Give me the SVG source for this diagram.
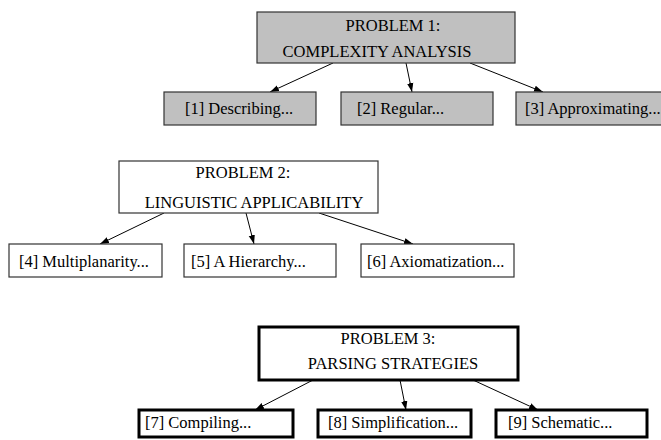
<svg xmlns="http://www.w3.org/2000/svg" width="661" height="440" viewBox="0 0 661 440">
<defs>
<style>
text{font-family:"Liberation Serif","Times New Roman",serif;font-size:16.5px;fill:#000}
.g{fill:#c0c0c0;stroke:#333;stroke-width:1.2}
.w{fill:#fff;stroke:#333;stroke-width:1.2}
.b{fill:#fff;stroke:#000;stroke-width:3}
.c{stroke:#000;stroke-width:1;fill:none;marker-end:url(#ah)}
</style>
<marker id="ah" viewBox="0 0 10 10" refX="10" refY="5" markerWidth="9" markerHeight="9" markerUnits="userSpaceOnUse" orient="auto"><path d="M0,1.5 L10,5 L0,8.5 Z" fill="#000"/></marker>
</defs>
<rect width="661" height="440" fill="#fff"/>
<g id="connectors">
<line class="c" x1="333" y1="63" x2="270" y2="92"/>
<line class="c" x1="406" y1="63" x2="412" y2="92"/>
<line class="c" x1="470" y1="63" x2="543" y2="92"/>
<line class="c" x1="164" y1="213" x2="100" y2="244"/>
<line class="c" x1="246" y1="213" x2="254" y2="244"/>
<line class="c" x1="319" y1="213" x2="413" y2="244"/>
<line class="c" x1="313" y1="380" x2="255" y2="410"/>
<line class="c" x1="400" y1="380" x2="406" y2="410"/>
<line class="c" x1="473" y1="380" x2="538" y2="410"/>
</g>
<g id="p1"><rect class="g" x="257" y="12" width="258" height="51"/><text x="393" y="31" text-anchor="middle">PROBLEM 1:</text><text x="377" y="57" text-anchor="middle">COMPLEXITY ANALYSIS</text></g>
<g id="n1"><rect class="g" x="164" y="92" width="152" height="33"/><text x="185" y="114">[1] Describing...</text></g>
<g id="n2"><rect class="g" x="341" y="92" width="152" height="33"/><text x="357" y="114">[2] Regular...</text></g>
<g id="n3"><rect class="g" x="516" y="92" width="152" height="33"/><text x="525" y="114">[3] Approximating...</text></g>
<g id="p2"><rect class="w" x="119" y="161" width="259" height="52"/><text x="243" y="178" text-anchor="middle">PROBLEM 2:</text><text x="254" y="208" text-anchor="middle">LINGUISTIC APPLICABILITY</text></g>
<g id="n4"><rect class="w" x="9" y="244" width="153" height="33"/><text x="19" y="267">[4] Multiplanarity...</text></g>
<g id="n5"><rect class="w" x="184" y="244" width="152" height="33"/><text x="191" y="267">[5] A Hierarchy...</text></g>
<g id="n6"><rect class="w" x="361" y="244" width="153" height="33"/><text x="367" y="267">[6] Axiomatization...</text></g>
<g id="p3"><rect class="b" x="259" y="327" width="259" height="53"/><text x="388" y="344" text-anchor="middle">PROBLEM 3:</text><text x="393" y="369" text-anchor="middle">PARSING STRATEGIES</text></g>
<g id="n7"><rect class="b" x="139" y="410" width="154" height="27"/><text x="145" y="428">[7] Compiling...</text></g>
<g id="n8"><rect class="b" x="318" y="410" width="153" height="27"/><text x="328" y="428">[8] Simplification...</text></g>
<g id="n9"><rect class="b" x="496" y="410" width="151" height="27"/><text x="508" y="428">[9] Schematic...</text></g>
</svg>
